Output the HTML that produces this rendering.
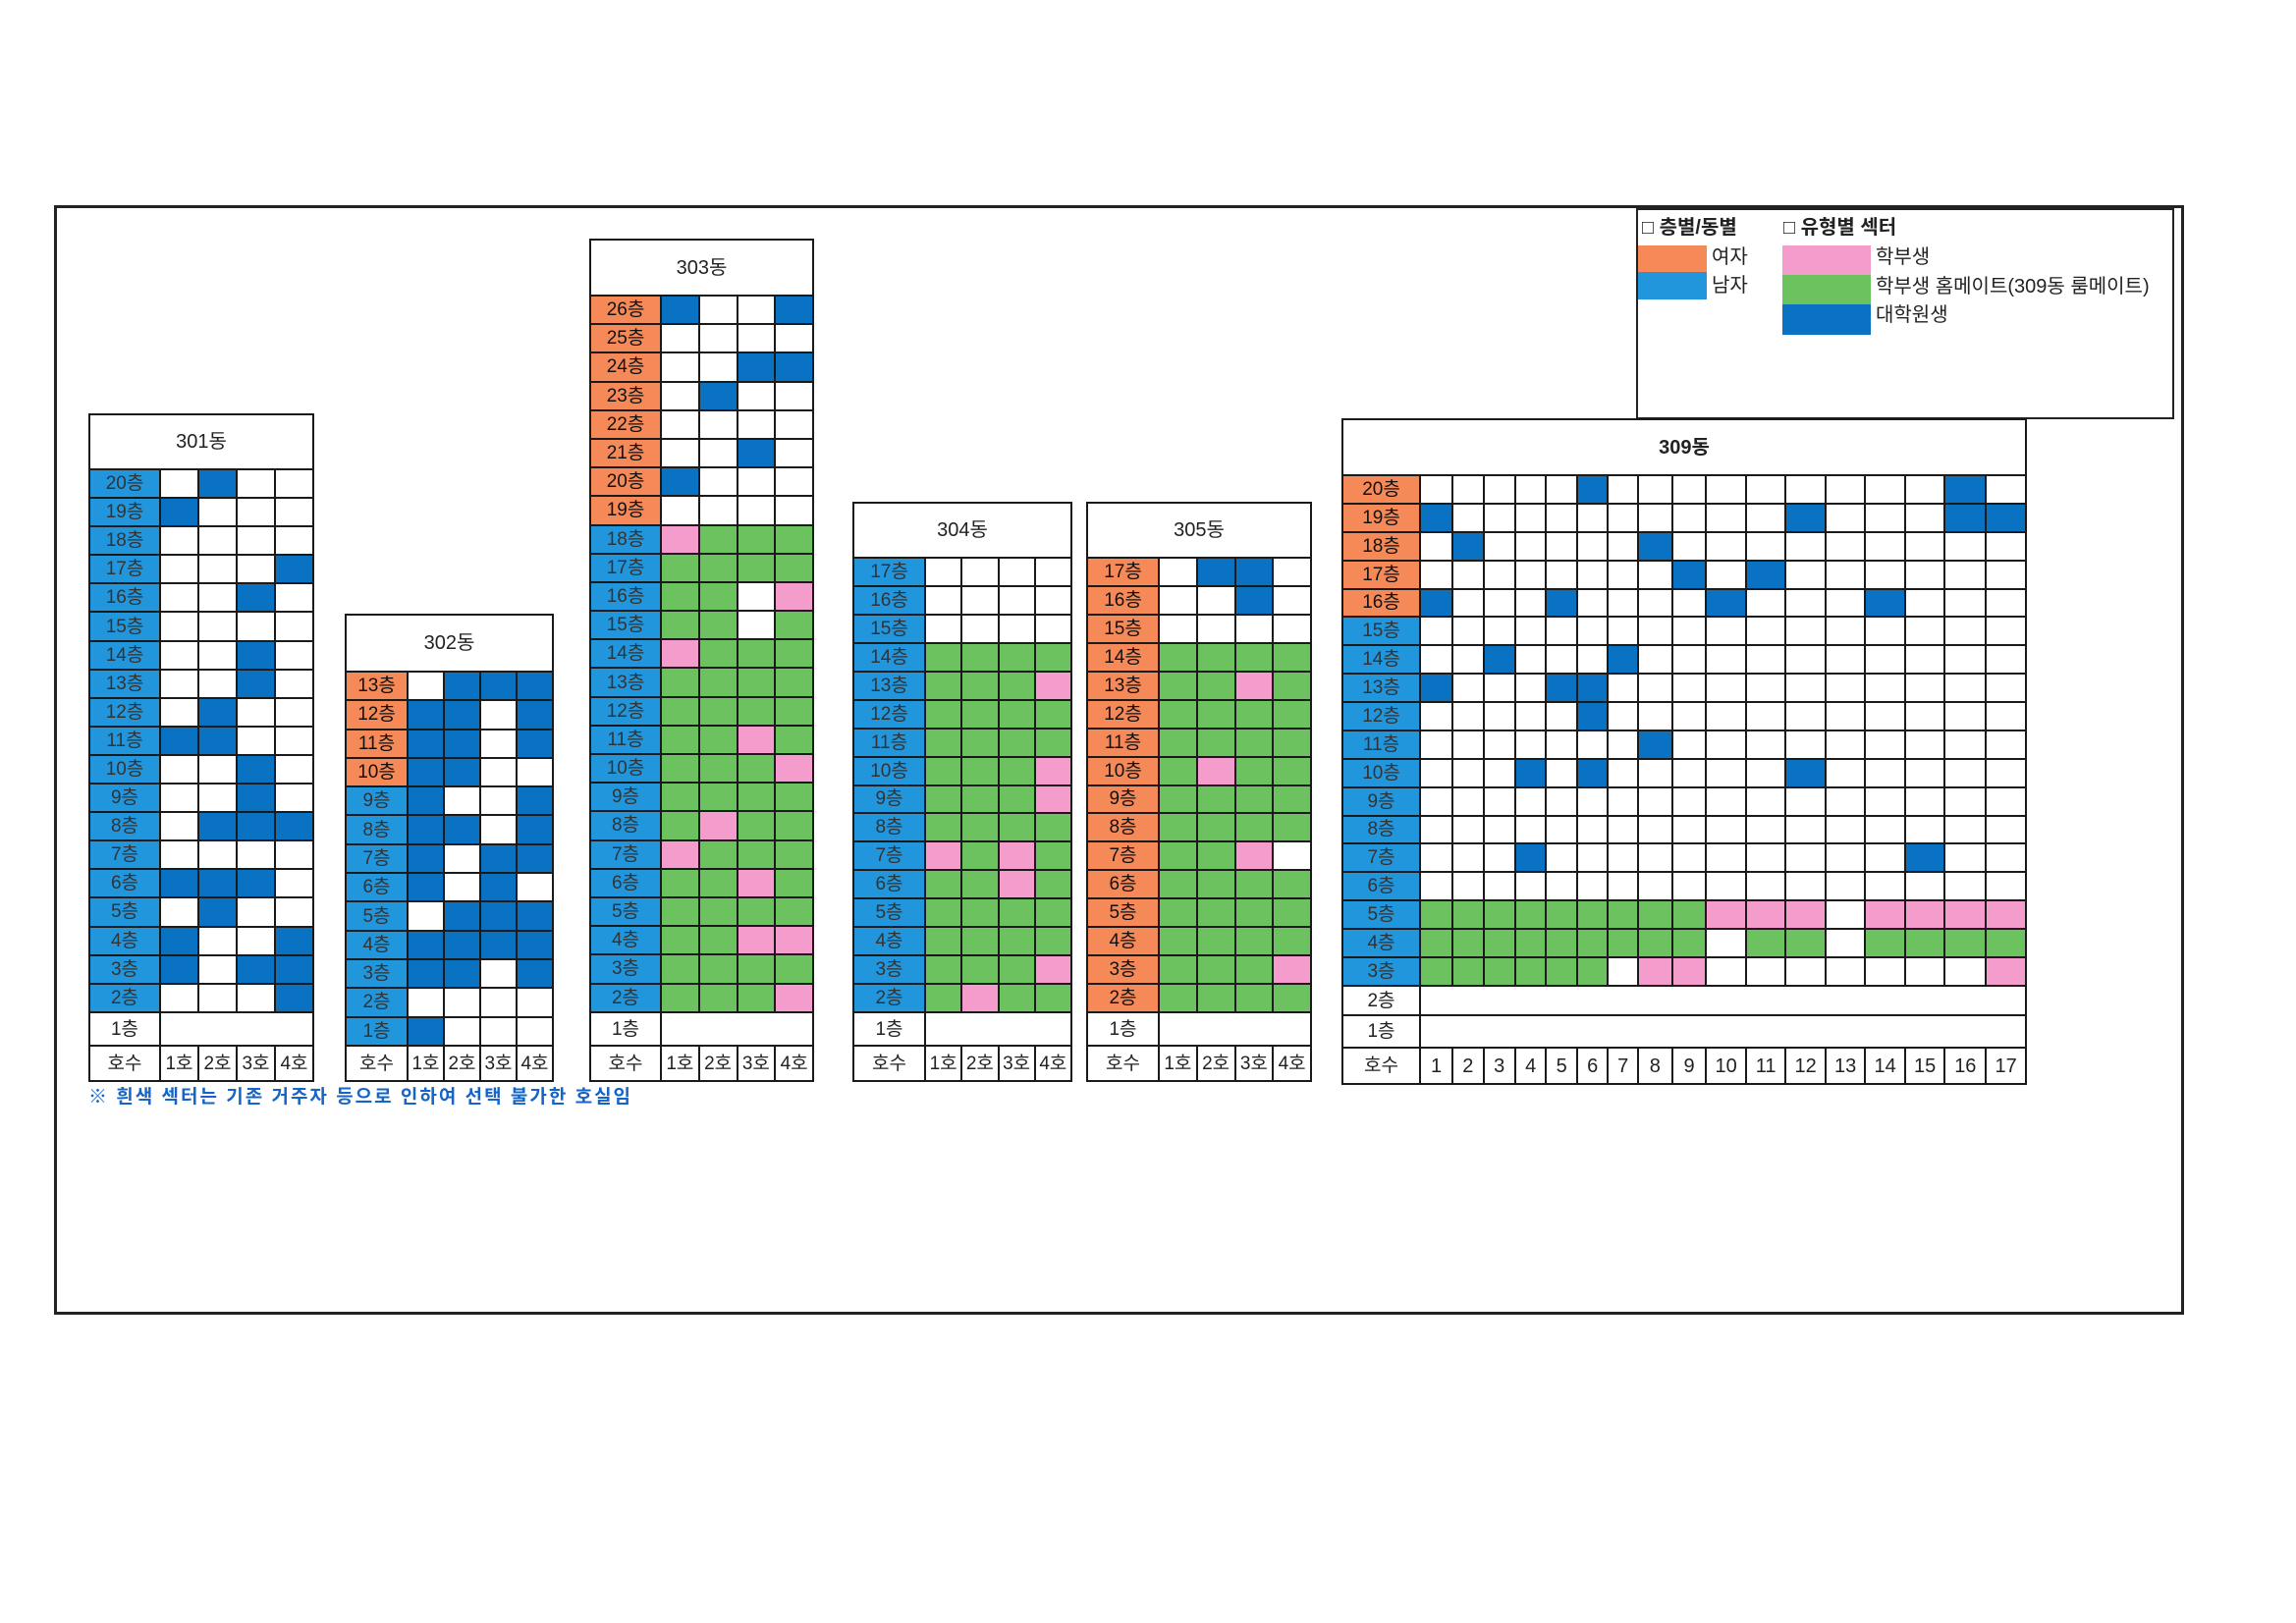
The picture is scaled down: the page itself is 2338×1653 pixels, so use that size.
<!DOCTYPE html>
<html><head><meta charset="utf-8"><style>
body{margin:0;width:2338px;height:1653px;background:#fff;position:relative;overflow:hidden;font-family:"Liberation Sans","Noto Sans CJK KR",sans-serif;}
.frame{position:absolute;left:55px;top:209px;width:2163px;height:1124px;border:3px solid #222;}
.leg{position:absolute;left:1666px;top:212px;width:544px;height:211px;border:2px solid #222;background:#fff;}
table{position:absolute;border-collapse:collapse;table-layout:fixed;}
td{border:2px solid #1a1a1a;padding:0;text-align:center;font-size:19px;line-height:1;color:#222;background:#fff;white-space:nowrap;overflow:hidden;}
td.h{font-size:20px;}
.o{background:#F58A58;color:#111;}
.l{background:#2196DC;color:#333;}
.B{background:#0A72C2;}
.G{background:#6CC25E;}
.P{background:#F49CCB;}
.n{font-size:20px;}
.t{position:absolute;font-size:20px;line-height:1.2;color:#222;}
.sw{position:absolute;}
</style></head><body>
<div class="frame"></div>
<div class="leg"></div>
<div class="t" style="left:1672px;top:220px;font-weight:bold;">□ 층별/동별</div>
<div class="t" style="left:1816px;top:220px;font-weight:bold;">□ 유형별 섹터</div>
<div class="sw" style="left:1668px;top:250px;width:70px;height:27px;background:#F58A58"></div>
<div class="sw" style="left:1668px;top:277px;width:70px;height:28px;background:#2196DC"></div>
<div class="t" style="left:1743px;top:250px;">여자</div>
<div class="t" style="left:1743px;top:279px;">남자</div>
<div class="sw" style="left:1815px;top:250px;width:90px;height:30px;background:#F49CCB"></div>
<div class="sw" style="left:1815px;top:280px;width:90px;height:30px;background:#6CC25E"></div>
<div class="sw" style="left:1815px;top:310px;width:90px;height:31px;background:#0A72C2"></div>
<div class="t" style="left:1910px;top:250px;">학부생</div>
<div class="t" style="left:1910px;top:280px;">학부생 홈메이트(309동 룸메이트)</div>
<div class="t" style="left:1910px;top:309px;">대학원생</div>
<div class="t" style="left:90px;top:1107px;font-size:19px;font-weight:bold;color:#1565C8;letter-spacing:2px;">※ 흰색 섹터는 기존 거주자 등으로 인하여 선택 불가한 호실임</div>

<!-- 301 -->
<table style="left:90px;top:421px;width:230px;height:681px;">
<colgroup><col style="width:72px"><col><col><col><col></colgroup>
<tr style="height:56px"><td class="h" colspan="5">301동</td></tr>
<tr><td class="l">20층<td><td class="B"><td><td></tr>
<tr><td class="l">19층<td class="B"><td><td><td></tr>
<tr><td class="l">18층<td><td><td><td></tr>
<tr><td class="l">17층<td><td><td><td class="B"></tr>
<tr><td class="l">16층<td><td><td class="B"><td></tr>
<tr><td class="l">15층<td><td><td><td></tr>
<tr><td class="l">14층<td><td><td class="B"><td></tr>
<tr><td class="l">13층<td><td><td class="B"><td></tr>
<tr><td class="l">12층<td><td class="B"><td><td></tr>
<tr><td class="l">11층<td class="B"><td class="B"><td><td></tr>
<tr><td class="l">10층<td><td><td class="B"><td></tr>
<tr><td class="l">9층<td><td><td class="B"><td></tr>
<tr><td class="l">8층<td><td class="B"><td class="B"><td class="B"></tr>
<tr><td class="l">7층<td><td><td><td></tr>
<tr><td class="l">6층<td class="B"><td class="B"><td class="B"><td></tr>
<tr><td class="l">5층<td><td class="B"><td><td></tr>
<tr><td class="l">4층<td class="B"><td><td><td class="B"></tr>
<tr><td class="l">3층<td class="B"><td><td class="B"><td class="B"></tr>
<tr><td class="l">2층<td><td><td><td class="B"></tr>
<tr style="height:34px"><td>1층<td colspan="4"></tr>
<tr style="height:36px"><td>호수<td>1호<td>2호<td>3호<td>4호</tr>
</table>

<!-- 302 -->
<table style="left:351px;top:625px;width:213px;height:477px;">
<colgroup><col style="width:63px"><col><col><col><col></colgroup>
<tr style="height:58px"><td class="h" colspan="5">302동</td></tr>
<tr><td class="o">13층<td><td class="B"><td class="B"><td class="B"></tr>
<tr><td class="o">12층<td class="B"><td class="B"><td><td class="B"></tr>
<tr><td class="o">11층<td class="B"><td class="B"><td><td class="B"></tr>
<tr><td class="o">10층<td class="B"><td class="B"><td><td></tr>
<tr><td class="l">9층<td class="B"><td><td><td class="B"></tr>
<tr><td class="l">8층<td class="B"><td class="B"><td><td class="B"></tr>
<tr><td class="l">7층<td class="B"><td><td class="B"><td class="B"></tr>
<tr><td class="l">6층<td class="B"><td><td class="B"><td></tr>
<tr><td class="l">5층<td><td class="B"><td class="B"><td class="B"></tr>
<tr><td class="l">4층<td class="B"><td class="B"><td class="B"><td class="B"></tr>
<tr><td class="l">3층<td class="B"><td class="B"><td><td class="B"></tr>
<tr><td class="l">2층<td><td><td><td></tr>
<tr><td class="l">1층<td class="B"><td><td><td></tr>
<tr style="height:36px"><td>호수<td>1호<td>2호<td>3호<td>4호</tr>
</table>

<!-- 303 -->
<table style="left:600px;top:243px;width:229px;height:859px;">
<colgroup><col style="width:72px"><col><col><col><col></colgroup>
<tr style="height:57px"><td class="h" colspan="5">303동</td></tr>
<tr><td class="o">26층<td class="B"><td><td><td class="B"></tr>
<tr><td class="o">25층<td><td><td><td></tr>
<tr><td class="o">24층<td><td><td class="B"><td class="B"></tr>
<tr><td class="o">23층<td><td class="B"><td><td></tr>
<tr><td class="o">22층<td><td><td><td></tr>
<tr><td class="o">21층<td><td><td class="B"><td></tr>
<tr><td class="o">20층<td class="B"><td><td><td></tr>
<tr><td class="o">19층<td><td><td><td></tr>
<tr><td class="l">18층<td class="P"><td class="G"><td class="G"><td class="G"></tr>
<tr><td class="l">17층<td class="G"><td class="G"><td class="G"><td class="G"></tr>
<tr><td class="l">16층<td class="G"><td class="G"><td><td class="P"></tr>
<tr><td class="l">15층<td class="G"><td class="G"><td><td class="G"></tr>
<tr><td class="l">14층<td class="P"><td class="G"><td class="G"><td class="G"></tr>
<tr><td class="l">13층<td class="G"><td class="G"><td class="G"><td class="G"></tr>
<tr><td class="l">12층<td class="G"><td class="G"><td class="G"><td class="G"></tr>
<tr><td class="l">11층<td class="G"><td class="G"><td class="P"><td class="G"></tr>
<tr><td class="l">10층<td class="G"><td class="G"><td class="G"><td class="P"></tr>
<tr><td class="l">9층<td class="G"><td class="G"><td class="G"><td class="G"></tr>
<tr><td class="l">8층<td class="G"><td class="P"><td class="G"><td class="G"></tr>
<tr><td class="l">7층<td class="P"><td class="G"><td class="G"><td class="G"></tr>
<tr><td class="l">6층<td class="G"><td class="G"><td class="P"><td class="G"></tr>
<tr><td class="l">5층<td class="G"><td class="G"><td class="G"><td class="G"></tr>
<tr><td class="l">4층<td class="G"><td class="G"><td class="P"><td class="P"></tr>
<tr><td class="l">3층<td class="G"><td class="G"><td class="G"><td class="G"></tr>
<tr><td class="l">2층<td class="G"><td class="G"><td class="G"><td class="P"></tr>
<tr style="height:34px"><td>1층<td colspan="4"></tr>
<tr style="height:36px"><td>호수<td>1호<td>2호<td>3호<td>4호</tr>
</table>

<!-- 304 -->
<table style="left:868px;top:511px;width:224px;height:591px;">
<colgroup><col style="width:73px"><col><col><col><col></colgroup>
<tr style="height:56px"><td class="h" colspan="5">304동</td></tr>
<tr><td class="l">17층<td><td><td><td></tr>
<tr><td class="l">16층<td><td><td><td></tr>
<tr><td class="l">15층<td><td><td><td></tr>
<tr><td class="l">14층<td class="G"><td class="G"><td class="G"><td class="G"></tr>
<tr><td class="l">13층<td class="G"><td class="G"><td class="G"><td class="P"></tr>
<tr><td class="l">12층<td class="G"><td class="G"><td class="G"><td class="G"></tr>
<tr><td class="l">11층<td class="G"><td class="G"><td class="G"><td class="G"></tr>
<tr><td class="l">10층<td class="G"><td class="G"><td class="G"><td class="P"></tr>
<tr><td class="l">9층<td class="G"><td class="G"><td class="G"><td class="P"></tr>
<tr><td class="l">8층<td class="G"><td class="G"><td class="G"><td class="G"></tr>
<tr><td class="l">7층<td class="P"><td class="G"><td class="P"><td class="G"></tr>
<tr><td class="l">6층<td class="G"><td class="G"><td class="P"><td class="G"></tr>
<tr><td class="l">5층<td class="G"><td class="G"><td class="G"><td class="G"></tr>
<tr><td class="l">4층<td class="G"><td class="G"><td class="G"><td class="G"></tr>
<tr><td class="l">3층<td class="G"><td class="G"><td class="G"><td class="P"></tr>
<tr><td class="l">2층<td class="G"><td class="P"><td class="G"><td class="G"></tr>
<tr style="height:34px"><td>1층<td colspan="4"></tr>
<tr style="height:36px"><td>호수<td>1호<td>2호<td>3호<td>4호</tr>
</table>

<!-- 305 -->
<table style="left:1106px;top:511px;width:230px;height:591px;">
<colgroup><col style="width:73px"><col><col><col><col></colgroup>
<tr style="height:56px"><td class="h" colspan="5">305동</td></tr>
<tr><td class="o">17층<td><td class="B"><td class="B"><td></tr>
<tr><td class="o">16층<td><td><td class="B"><td></tr>
<tr><td class="o">15층<td><td><td><td></tr>
<tr><td class="o">14층<td class="G"><td class="G"><td class="G"><td class="G"></tr>
<tr><td class="o">13층<td class="G"><td class="G"><td class="P"><td class="G"></tr>
<tr><td class="o">12층<td class="G"><td class="G"><td class="G"><td class="G"></tr>
<tr><td class="o">11층<td class="G"><td class="G"><td class="G"><td class="G"></tr>
<tr><td class="o">10층<td class="G"><td class="P"><td class="G"><td class="G"></tr>
<tr><td class="o">9층<td class="G"><td class="G"><td class="G"><td class="G"></tr>
<tr><td class="o">8층<td class="G"><td class="G"><td class="G"><td class="G"></tr>
<tr><td class="o">7층<td class="G"><td class="G"><td class="P"><td></tr>
<tr><td class="o">6층<td class="G"><td class="G"><td class="G"><td class="G"></tr>
<tr><td class="o">5층<td class="G"><td class="G"><td class="G"><td class="G"></tr>
<tr><td class="o">4층<td class="G"><td class="G"><td class="G"><td class="G"></tr>
<tr><td class="o">3층<td class="G"><td class="G"><td class="G"><td class="P"></tr>
<tr><td class="o">2층<td class="G"><td class="G"><td class="G"><td class="G"></tr>
<tr style="height:34px"><td>1층<td colspan="4"></tr>
<tr style="height:36px"><td>호수<td>1호<td>2호<td>3호<td>4호</tr>
</table>

<!-- 309 -->
<table style="left:1366px;top:426px;width:698px;height:679px;">
<colgroup><col style="width:79px"><col style="width:33px"><col style="width:31.5px"><col style="width:32.4px"><col style="width:31.5px"><col style="width:31.5px"><col style="width:31.5px"><col style="width:30.6px"><col style="width:34.7px"><col style="width:34.7px"><col style="width:40.5px"><col style="width:40.5px"><col style="width:40.5px"><col style="width:40.5px"><col style="width:40.5px"><col style="width:40.5px"><col style="width:41.9px"><col style="width:40.5px"></colgroup>
<tr style="height:57px"><td class="h" colspan="18" style="font-weight:bold">309동</td></tr>
<tr><td class="o">20층<td><td><td><td><td><td class="B"><td><td><td><td><td><td><td><td><td><td class="B"><td></tr>
<tr><td class="o">19층<td class="B"><td><td><td><td><td><td><td><td><td><td><td class="B"><td><td><td><td class="B"><td class="B"></tr>
<tr><td class="o">18층<td><td class="B"><td><td><td><td><td><td class="B"><td><td><td><td><td><td><td><td><td></tr>
<tr><td class="o">17층<td><td><td><td><td><td><td><td><td class="B"><td><td class="B"><td><td><td><td><td><td></tr>
<tr><td class="o">16층<td class="B"><td><td><td><td class="B"><td><td><td><td><td class="B"><td><td><td><td class="B"><td><td><td></tr>
<tr><td class="l">15층<td><td><td><td><td><td><td><td><td><td><td><td><td><td><td><td><td></tr>
<tr><td class="l">14층<td><td><td class="B"><td><td><td><td class="B"><td><td><td><td><td><td><td><td><td><td></tr>
<tr><td class="l">13층<td class="B"><td><td><td><td class="B"><td class="B"><td><td><td><td><td><td><td><td><td><td><td></tr>
<tr><td class="l">12층<td><td><td><td><td><td class="B"><td><td><td><td><td><td><td><td><td><td><td></tr>
<tr><td class="l">11층<td><td><td><td><td><td><td><td class="B"><td><td><td><td><td><td><td><td><td></tr>
<tr><td class="l">10층<td><td><td><td class="B"><td><td class="B"><td><td><td><td><td><td class="B"><td><td><td><td><td></tr>
<tr><td class="l">9층<td><td><td><td><td><td><td><td><td><td><td><td><td><td><td><td><td></tr>
<tr><td class="l">8층<td><td><td><td><td><td><td><td><td><td><td><td><td><td><td><td><td></tr>
<tr><td class="l">7층<td><td><td><td class="B"><td><td><td><td><td><td><td><td><td><td><td class="B"><td><td></tr>
<tr><td class="l">6층<td><td><td><td><td><td><td><td><td><td><td><td><td><td><td><td><td></tr>
<tr><td class="l">5층<td class="G"><td class="G"><td class="G"><td class="G"><td class="G"><td class="G"><td class="G"><td class="G"><td class="G"><td class="P"><td class="P"><td class="P"><td><td class="P"><td class="P"><td class="P"><td class="P"></tr>
<tr><td class="l">4층<td class="G"><td class="G"><td class="G"><td class="G"><td class="G"><td class="G"><td class="G"><td class="G"><td class="G"><td><td class="G"><td class="G"><td><td class="G"><td class="G"><td class="G"><td class="G"></tr>
<tr><td class="l">3층<td class="G"><td class="G"><td class="G"><td class="G"><td class="G"><td class="G"><td><td class="P"><td class="P"><td><td><td><td><td><td><td><td class="P"></tr>
<tr style="height:30px"><td>2층<td colspan="17"></tr>
<tr style="height:33px"><td>1층<td colspan="17"></tr>
<tr style="height:37px"><td>호수<td class="n">1<td class="n">2<td class="n">3<td class="n">4<td class="n">5<td class="n">6<td class="n">7<td class="n">8<td class="n">9<td class="n">10<td class="n">11<td class="n">12<td class="n">13<td class="n">14<td class="n">15<td class="n">16<td class="n">17</tr>
</table>
</body></html>
